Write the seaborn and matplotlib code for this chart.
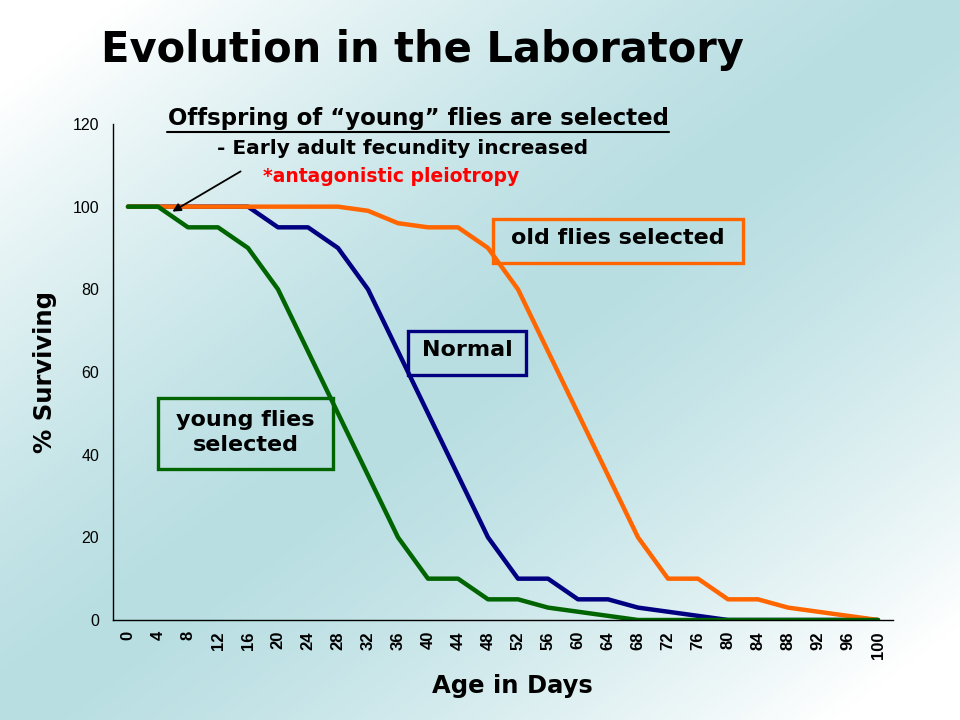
import numpy as np
import pandas as pd
import matplotlib
matplotlib.use("Agg")
import matplotlib.pyplot as plt
import seaborn as sns
from matplotlib.patches import Rectangle, FancyArrowPatch
from matplotlib.lines import Line2D

sns.set_style("white")
plt.rcParams["font.family"] = ["Liberation Sans", "DejaVu Sans"]
plt.rcParams["text.color"] = "black"
plt.rcParams["axes.labelcolor"] = "black"
plt.rcParams["xtick.color"] = "black"
plt.rcParams["ytick.color"] = "black"

# data
days = [0, 4, 8, 12, 16, 20, 24, 28, 32, 36, 40, 44, 48, 52, 56, 60, 64, 68, 72, 76, 80, 84, 88, 92, 96, 100]
normal = [100, 100, 100, 100, 100, 95, 95, 90, 80, 65, 50, 35, 20, 10, 10, 5, 5, 3, 2, 1, 0, 0, 0, 0, 0, 0]
old_sel = [100, 100, 100, 100, 100, 100, 100, 100, 99, 96, 95, 95, 90, 80, 65, 50, 35, 20, 10, 10, 5, 5, 3, 2, 1, 0]
young_sel = [100, 100, 95, 95, 90, 80, 65, 50, 35, 20, 10, 10, 5, 5, 3, 2, 1, 0, 0, 0, 0, 0, 0, 0, 0, 0]
series_names = ["Normal", "old flies selected", "young flies selected"]
colors = ["#000080", "#FF6600", "#006400"]

df = pd.DataFrame({
    "Day": days * 3,
    "Surviving": normal + old_sel + young_sel,
    "Group": [series_names[0]] * len(days) + [series_names[1]] * len(days) + [series_names[2]] * len(days),
})

W, H = 960, 720
fig = plt.figure(figsize=(9.6, 7.2), dpi=100)

def fx(px):
    return px / W

def fy(py):
    return 1 - py / H

wide = "DejaVu Sans"  # the slide's Arial is stretched sideways, DejaVu is closer in width

# slide background: white corners, teal band on the anti-diagonal
bg = fig.add_axes([0, 0, 1, 1], zorder=-10)
u = np.linspace(0, 1, 480)[None, :]
v = np.linspace(0, 1, 360)[:, None]
t = np.clip(np.abs(u + v - 1) * 1.15, 0, 1) ** 1.4
teal = np.array([184, 222, 226]) / 255
img = teal[None, None, :] * (1 - t[..., None]) + t[..., None]
bg.imshow(img, aspect="auto", extent=[0, 1, 0, 1])
bg.axis("off")

ax = fig.add_axes([fx(113), fy(620), fx(893) - fx(113), fy(124) - fy(620)])
ax.set_facecolor("none")

sns.lineplot(data=df, x="Day", y="Surviving", hue="Group", hue_order=series_names,
             palette=colors, linewidth=3.2, legend=False, ax=ax)

ax.set_xlim(-2, 102)
ax.set_ylim(0, 120)
ax.set_yticks(range(0, 121, 20))
ax.set_xticks(np.arange(-2, 103, 4))
ax.set_xticklabels([])
ax.set_xticks(days, minor=True)
ax.set_xticklabels([str(d) for d in days], minor=True, rotation=90, fontsize=12, fontweight="bold")
ax.tick_params(axis="x", which="minor", length=0, pad=8)
ax.tick_params(axis="x", which="major", length=6, width=1, color="black", direction="out")
ax.tick_params(axis="y", length=6, width=1, color="black", direction="out", labelsize=11.5, pad=4)
for s in ["top", "right"]:
    ax.spines[s].set_visible(False)
for s in ["left", "bottom"]:
    ax.spines[s].set_color("black")
    ax.spines[s].set_linewidth(1)
ax.set_xlabel("")
ax.set_ylabel("")

# titles and labels
fig.text(fx(422), fy(50), "Evolution in the Laboratory", fontsize=30, fontweight="bold",
         family=wide, ha="center", va="center")
fig.text(fx(512), fy(686), "Age in Days", fontsize=17.5, fontweight="bold", family=wide,
         ha="center", va="center")
fig.text(fx(45), fy(372), "% Surviving", fontsize=17.5, fontweight="bold", family=wide,
         ha="center", va="center", rotation=90)

# annotation at top
fig.text(fx(418), fy(119), "Offspring of \u201cyoung\u201d flies are selected", fontsize=16.5,
         fontweight="bold", family=wide, ha="center", va="center")
fig.add_artist(Line2D([fx(167), fx(669)], [fy(132), fy(132)], color="black", lw=1.5))
fig.text(fx(403), fy(149), "- Early adult fecundity increased", fontsize=14.5,
         fontweight="bold", family=wide, ha="center", va="center")
fig.text(fx(391), fy(176), "*antagonistic pleiotropy", fontsize=13.5,
         fontweight="bold", family=wide, color="#FF0000", ha="center", va="center")
fig.add_artist(FancyArrowPatch((fx(243), fy(170)), (fx(170), fy(213)),
                               transform=fig.transFigure, arrowstyle="-|>",
                               mutation_scale=12, color="black", lw=1.3))

# labelled boxes
boxes = [
    (493, 219, 743, 263, "old flies selected", colors[1], -3),
    (408, 331, 526, 375, "Normal", colors[0], -3),
    (158, 398, 333, 469, "young flies\nselected", colors[2], -1),
]
for x0, y0, x1, y1, label, c, dy in boxes:
    fig.add_artist(Rectangle((fx(x0), fy(y1)), fx(x1) - fx(x0), fy(y0) - fy(y1),
                             transform=fig.transFigure, fill=False, edgecolor=c, lw=2.4))
    fig.text(fx((x0 + x1) / 2), fy((y0 + y1) / 2 + dy), label, fontsize=16, fontweight="bold",
             family=wide, ha="center", va="center", linespacing=1.35)

fig.savefig("out.png", dpi=100)
